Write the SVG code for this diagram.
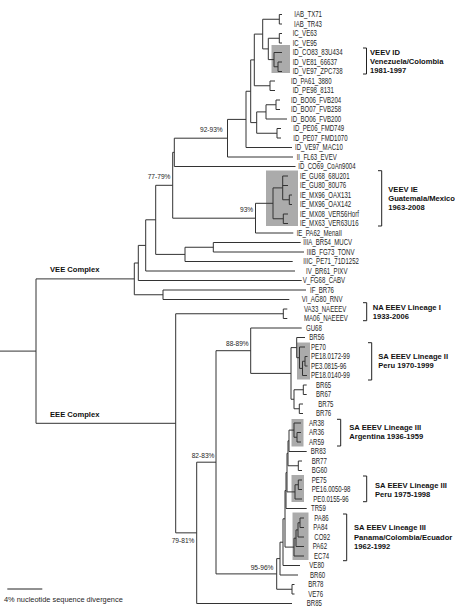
<svg xmlns="http://www.w3.org/2000/svg" width="455" height="608" viewBox="0 0 455 608">
<style>
.ln{fill:none;stroke:#333;stroke-width:1}
.br{fill:none;stroke:#222;stroke-width:1}
.box{fill:#ababab}
text{font-family:"Liberation Sans",Arial,Helvetica,sans-serif;fill:#1e1e1e}
.lf{font-size:8.2px}
.gl{font-size:7.6px;font-weight:bold;fill:#111}
.pc{font-size:6.6px}
.sb{font-size:7.4px}
</style>
<rect width="455" height="608" fill="#fff"/>
<g id="clade-boxes">
<rect class="box" x="271.5" y="45" width="18.5" height="28"/>
<rect class="box" x="266" y="170.5" width="32" height="55.5"/>
<rect class="box" x="297" y="342.5" width="13" height="37"/>
<rect class="box" x="291.5" y="419" width="12" height="27.5"/>
<rect class="box" x="291.5" y="475" width="12.5" height="27"/>
<rect class="box" x="292.5" y="512.5" width="16" height="47.5"/>
</g>
<g id="connectors">
<path class="ln" d="M0 351.1H36M36 278.9V423.3M36 278.9H134.3M36 423.3H175.7"/>
<path class="ln" d="M134.3 263V294.75M134.3 263H138.3M134.3 294.75H163M163 290V299.5M163 290H306M163 299.5H289.3"/>
<path class="ln" d="M138.3 245.4V280.5M138.3 245.4H145.7M138.3 280.5H301.7M145.7 219.8V271M145.7 219.8H155.7M145.7 271H295"/>
<path class="ln" d="M155.7 185.3V254.4M155.7 185.3H172.7M155.7 254.4H185M185 247.25V261.5M185 247.25H213.3M185 261.5H292.7M213.3 242.5V252M213.3 242.5H300.7M213.3 252H304"/>
<path class="ln" d="M172.7 152.35V218.2M172.7 152.35H174.3M172.7 218.2H255.5M174.3 138.2V166.5M174.3 138.2H227.5M174.3 166.5H295.5"/>
<path class="ln" d="M227.5 119.4V157M227.5 119.4H246M227.5 157H293M246 91.25V147.5M246 91.25H250.7M246 147.5H292"/>
<path class="ln" d="M250.7 59.9V122.6M250.7 59.9H254.3M250.7 122.6H256.7M254.3 34.1V85.75M254.3 34.1H262.7M254.3 85.75H270"/>
<path class="ln" d="M262.7 19.25V48.9M262.7 19.25H279.3M262.7 48.9H268.3M279.3 14.5V24M279.3 14.5H282M279.3 24H282"/>
<path class="ln" d="M268.3 38.25V59.6M268.3 38.25H279.3M268.3 59.6H274M279.3 33.5V43M279.3 33.5H282M279.3 43H282"/>
<path class="ln" d="M274 52.5V66.75M274 52.5H282M274 66.75H278M278 62V71.5M278 62H282M278 71.5H282"/>
<path class="ln" d="M270 81V90.5M270 81H275M270 90.5H275"/>
<path class="ln" d="M256.7 111.9V133.25M256.7 111.9H266M256.7 133.25H277M266 104.75V119M266 104.75H276M266 119H287M276 100V109.5M276 100H280M276 109.5H280M277 128.5V138M277 128.5H281M277 138H281"/>
<path class="ln" d="M255.5 203.3V233M255.5 203.3H273M255.5 233H293.3M273 187.9V218.75M273 187.9H282.7M273 218.75H283.3"/>
<path class="ln" d="M282.7 176V199.75M282.7 176H288M282.7 185.5H288M282.7 199.75H289.3M289.3 195V204.5M289.3 195H292M289.3 204.5H292M283.3 214V223.5M283.3 214H288M283.3 223.5H288"/>
<path class="ln" d="M175.7 313.75V532.85M175.7 313.75H283.3M175.7 532.85H196.7M283.3 309V318.5M283.3 309H287.3M283.3 318.5H287.3"/>
<path class="ln" d="M196.7 462.2V603.5M196.7 462.2H216M196.7 603.5H292M216 350.7V573.9M216 350.7H250.7M216 573.9H276.7"/>
<path class="ln" d="M250.7 328V373.4M250.7 328H301.7M250.7 373.4H291M291 347.6V399.25M291 347.6H296.7M291 399.25H294"/>
<path class="ln" d="M296.7 337.5V357.7M296.7 337.5H305M296.7 357.7H299.5M299.5 347V368.4M299.5 347H305M299.5 368.4H302.5M302.5 361.25V375.5M302.5 361.25H305M302.5 375.5H307M305 356.5V366M305 356.5H307.5M305 366H307.5"/>
<path class="ln" d="M294 389.75V408.75M294 389.75H303.3M294 408.75H299.3M303.3 385V394.5M303.3 385H306.7M303.3 394.5H306.7M299.3 404V413.5M299.3 404H303M299.3 413.5H303"/>
<path class="ln" d="M276.7 558.6V589.25M276.7 558.6H280M276.7 589.25H292M292 584.5V594M292 584.5H294.5M292 594H294.5"/>
<path class="ln" d="M280 542.2V575M280 542.2H283M280 575H298M283 518.8V565.5M283 518.8H285M283 565.5H300M285 490.5V547.1M285 490.5H286M285 547.1H294"/>
<path class="ln" d="M286 472.6V508.5M286 472.6H287M286 508.5H306.7M287 453.3V491.9M287 453.3H288M287 491.9H295M288 440.8V465.75M288 440.8H289M288 465.75H298.3M289 430.1V451.5M289 430.1H294M289 451.5H306.7"/>
<path class="ln" d="M294 423V437.25M294 423H301M294 437.25H297M297 432.5V442M297 432.5H301M297 442H301M298.3 461V470.5M298.3 461H302M298.3 470.5H302"/>
<path class="ln" d="M295 484.75V499M295 484.75H298.3M295 499H302M298.3 480V489.5M298.3 480H302M298.3 489.5H302"/>
<path class="ln" d="M294 538.2V556M294 538.2H296M294 556H304M296 529.9V546.5M296 529.9H298M296 546.5H304M298 522.75V537M298 522.75H300M298 537H304M300 518V527.5M300 518H304M300 527.5H304"/>
</g>
<g id="support-values">
<text class="pc" x="200" y="131.7">92-93%</text>
<text class="pc" x="147.7" y="179.4">77-79%</text>
<text class="pc" x="240" y="212.4">93%</text>
<text class="pc" x="226" y="345.5">88-89%</text>
<text class="pc" x="191.7" y="458">82-83%</text>
<text class="pc" x="171.7" y="543.4">79-81%</text>
<text class="pc" x="250.7" y="570">95-96%</text>
</g>
<g id="complex-labels">
<text class="gl" x="50" y="271.7">VEE Complex</text>
<text class="gl" x="50" y="416.7">EEE Complex</text>
</g>
<g transform="scale(0.74,1)">
<g id="leaf-IAB_TX71"><text class="lf" x="397.7" y="17.4">IAB_TX71</text></g>
<g id="leaf-IAB_TR43"><text class="lf" x="397.3" y="26.9">IAB_TR43</text></g>
<g id="leaf-IC_VE63"><text class="lf" x="395.5" y="36.4">IC_VE63</text></g>
<g id="leaf-IC_VE95"><text class="lf" x="395.5" y="45.9">IC_VE95</text></g>
<g id="leaf-ID_CO83_83U434"><text class="lf" x="395.5" y="55.4">ID_CO83_83U434</text></g>
<g id="leaf-ID_VE81_66637"><text class="lf" x="395.5" y="64.9">ID_VE81_66637</text></g>
<g id="leaf-ID_VE97_ZPC738"><text class="lf" x="395.5" y="74.4">ID_VE97_ZPC738</text></g>
<g id="leaf-ID_PA61_3880"><text class="lf" x="393.2" y="83.9">ID_PA61_3880</text></g>
<g id="leaf-ID_PE98_8131"><text class="lf" x="395.5" y="93.4">ID_PE98_8131</text></g>
<g id="leaf-ID_BO06_FVB204"><text class="lf" x="393.2" y="102.9">ID_BO06_FVB204</text></g>
<g id="leaf-ID_BO07_FVB258"><text class="lf" x="393.2" y="112.4">ID_BO07_FVB258</text></g>
<g id="leaf-ID_BO06_FVB200"><text class="lf" x="393.2" y="121.9">ID_BO06_FVB200</text></g>
<g id="leaf-ID_PE06_FMD749"><text class="lf" x="396.4" y="131.4">ID_PE06_FMD749</text></g>
<g id="leaf-ID_PE07_FMD1070"><text class="lf" x="396.4" y="140.9">ID_PE07_FMD1070</text></g>
<g id="leaf-ID_VE97_MAC10"><text class="lf" x="398.6" y="150.4">ID_VE97_MAC10</text></g>
<g id="leaf-II_FL63_EVEV"><text class="lf" x="400.9" y="159.9">II_FL63_EVEV</text></g>
<g id="leaf-ID_CO69_CoAn9004"><text class="lf" x="403.1" y="169.4">ID_CO69_CoAn9004</text></g>
<g id="leaf-IE_GU68_68U201"><text class="lf" x="405.4" y="178.9">IE_GU68_68U201</text></g>
<g id="leaf-IE_GU80_80U76"><text class="lf" x="405.4" y="188.4">IE_GU80_80U76</text></g>
<g id="leaf-IE_MX96_OAX131"><text class="lf" x="405.4" y="197.9">IE_MX96_OAX131</text></g>
<g id="leaf-IE_MX96_OAX142"><text class="lf" x="405.4" y="207.4">IE_MX96_OAX142</text></g>
<g id="leaf-IE_MX08_VER56Horf"><text class="lf" x="405.4" y="216.9">IE_MX08_VER56Horf</text></g>
<g id="leaf-IE_MX63_VER63U16"><text class="lf" x="405.4" y="226.4">IE_MX63_VER63U16</text></g>
<g id="leaf-IE_PA62_MenaII"><text class="lf" x="400.9" y="235.9">IE_PA62_MenaII</text></g>
<g id="leaf-IIIA_BR54_MUCV"><text class="lf" x="409.9" y="245.4">IIIA_BR54_MUCV</text></g>
<g id="leaf-IIIB_FG73_TONV"><text class="lf" x="414.5" y="254.9">IIIB_FG73_TONV</text></g>
<g id="leaf-IIIC_PE71_71D1252"><text class="lf" x="409.9" y="264.4">IIIC_PE71_71D1252</text></g>
<g id="leaf-IV_BR61_PIXV"><text class="lf" x="413.5" y="273.9">IV_BR61_PIXV</text></g>
<g id="leaf-V_FG68_CABV"><text class="lf" x="409.1" y="283.4">V_FG68_CABV</text></g>
<g id="leaf-IF_BR76"><text class="lf" x="418.9" y="292.9">IF_BR76</text></g>
<g id="leaf-VI_AG80_RNV"><text class="lf" x="407.7" y="302.4">VI_AG80_RNV</text></g>
<g id="leaf-VA33_NAEEEV"><text class="lf" x="410.8" y="311.9">VA33_NAEEEV</text></g>
<g id="leaf-MA06_NAEEEV"><text class="lf" x="410.8" y="321.4">MA06_NAEEEV</text></g>
<g id="leaf-GU68"><text class="lf" x="413.5" y="330.9">GU68</text></g>
<g id="leaf-BR56"><text class="lf" x="418" y="340.4">BR56</text></g>
<g id="leaf-PE70"><text class="lf" x="420.3" y="349.9">PE70</text></g>
<g id="leaf-PE18.0172-99"><text class="lf" x="420.3" y="359.4">PE18.0172-99</text></g>
<g id="leaf-PE3.0815-96"><text class="lf" x="420.3" y="368.9">PE3.0815-96</text></g>
<g id="leaf-PE18.0140-99"><text class="lf" x="420.3" y="378.4">PE18.0140-99</text></g>
<g id="leaf-BR65"><text class="lf" x="427" y="387.9">BR65</text></g>
<g id="leaf-BR67"><text class="lf" x="427" y="397.4">BR67</text></g>
<g id="leaf-BR75"><text class="lf" x="430.1" y="406.9">BR75</text></g>
<g id="leaf-BR76"><text class="lf" x="427" y="416.4">BR76</text></g>
<g id="leaf-AR38"><text class="lf" x="417.6" y="425.9">AR38</text></g>
<g id="leaf-AR36"><text class="lf" x="417.6" y="435.4">AR36</text></g>
<g id="leaf-AR59"><text class="lf" x="417.6" y="444.9">AR59</text></g>
<g id="leaf-BR83"><text class="lf" x="419.9" y="454.4">BR83</text></g>
<g id="leaf-BR77"><text class="lf" x="421.2" y="463.9">BR77</text></g>
<g id="leaf-BG60"><text class="lf" x="421.2" y="473.4">BG60</text></g>
<g id="leaf-PE75"><text class="lf" x="421.2" y="482.9">PE75</text></g>
<g id="leaf-PE16.0050-98"><text class="lf" x="421.2" y="492.4">PE16.0050-98</text></g>
<g id="leaf-PE0.0155-96"><text class="lf" x="423.4" y="501.9">PE0.0155-96</text></g>
<g id="leaf-TR59"><text class="lf" x="420.3" y="511.4">TR59</text></g>
<g id="leaf-PA86"><text class="lf" x="424.7" y="520.9">PA86</text></g>
<g id="leaf-PA84"><text class="lf" x="423.4" y="530.4">PA84</text></g>
<g id="leaf-CO92"><text class="lf" x="424.7" y="539.9">CO92</text></g>
<g id="leaf-PA62"><text class="lf" x="422.6" y="549.4">PA62</text></g>
<g id="leaf-EC74"><text class="lf" x="424.3" y="558.9">EC74</text></g>
<g id="leaf-VE80"><text class="lf" x="418" y="568.4">VE80</text></g>
<g id="leaf-BR60"><text class="lf" x="418.9" y="577.9">BR60</text></g>
<g id="leaf-BR78"><text class="lf" x="416.6" y="587.4">BR78</text></g>
<g id="leaf-VE76"><text class="lf" x="416.6" y="596.9">VE76</text></g>
<g id="leaf-BR85"><text class="lf" x="414.5" y="606.4">BR85</text></g>
</g>
<g id="group-VEEV-ID">
<path class="br" d="M363 48H366.5V74H363"/>
<text class="gl" x="370" y="54.5">VEEV ID</text>
<text class="gl" x="370" y="63.8">Venezuela/Colombia</text>
<text class="gl" x="370" y="72.8">1981-1997</text>
</g>
<g id="group-VEEV-IE">
<path class="br" d="M378 170.7H381.7V226H378"/>
<text class="gl" x="388.3" y="192">VEEV IE</text>
<text class="gl" x="388.3" y="201">Guatemala/Mexico</text>
<text class="gl" x="388.3" y="210">1963-2008</text>
</g>
<g id="group-NA-EEEV-I">
<path class="br" d="M363 302.7H366.7V320.7H363"/>
<text class="gl" x="372.7" y="310">NA EEEV Lineage I</text>
<text class="gl" x="372.7" y="319">1933-2006</text>
</g>
<g id="group-SA-EEEV-II">
<path class="br" d="M368 342.7H371.7V380H368"/>
<text class="gl" x="378.3" y="358.8">SA EEEV Lineage II</text>
<text class="gl" x="378.3" y="367.6">Peru 1970-1999</text>
</g>
<g id="group-SA-EEEV-III-Argentina">
<path class="br" d="M337 419.3H340.7V446H337"/>
<text class="gl" x="349.3" y="430">SA EEEV Lineage III</text>
<text class="gl" x="349.3" y="439">Argentina 1936-1959</text>
</g>
<g id="group-SA-EEEV-III-Peru">
<path class="br" d="M363 476H366.7V501.7H363"/>
<text class="gl" x="375" y="487.8">SA EEEV Lineage III</text>
<text class="gl" x="375" y="496.6">Peru 1975-1998</text>
</g>
<g id="group-SA-EEEV-III-Panama">
<path class="br" d="M343 514H346.7V560.7H343"/>
<text class="gl" x="354" y="530">SA EEEV Lineage III</text>
<text class="gl" x="354" y="539.5">Panama/Colombia/Ecuador</text>
<text class="gl" x="354" y="549">1962-1992</text>
</g>
<g id="scale-bar">
<path class="br" d="M7.3 589H42.3"/>
<text class="sb" x="4" y="602">4% nucleotide sequence divergence</text>
</g>
</svg>
